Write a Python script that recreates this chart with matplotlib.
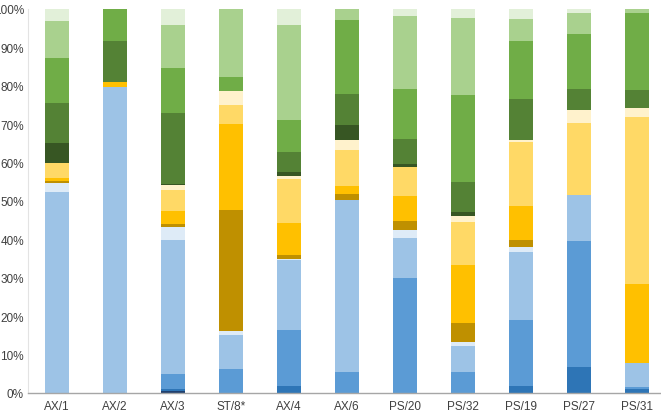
import matplotlib
matplotlib.use("Agg")
import matplotlib.pyplot as plt
import numpy as np
from matplotlib.ticker import PercentFormatter

categories = ["AX/1", "AX/2", "AX/3", "ST/8*", "AX/4", "AX/6", "PS/20", "PS/32", "PS/19", "PS/27", "PS/31"]

navy      = [0, 0, 0.5, 0, 0, 0, 0, 0, 0, 0, 0]
dk_blue   = [0, 0, 0.6, 0, 1.9, 0, 0, 0, 1.9, 6.7, 1.0]
med_blue  = [0, 0, 3.9, 6.25, 14.5, 5.4, 29.9, 5.4, 17.1, 32.8, 0.6]
lt_blue   = [52.3, 79.6, 35.0, 8.9, 18.2, 44.9, 10.4, 6.8, 17.6, 12.1, 6.2]
vlt_blue  = [2.3, 0, 3.2, 1.1, 0.3, 0, 2.2, 1.0, 1.3, 0, 0]
dk_gold   = [0.5, 0, 0.9, 31.25, 1.0, 1.7, 2.2, 4.9, 1.9, 0, 0]
gold      = [0.7, 1.3, 3.3, 22.4, 8.4, 2.0, 6.5, 15.2, 8.9, 0, 20.6]
lt_yellow = [3.8, 0, 5.4, 4.9, 11.5, 9.4, 7.7, 11.1, 16.5, 18.75, 43.6]
vlt_yellow= [0, 0, 1.3, 3.7, 0.9, 2.5, 0, 1.6, 0.6, 3.2, 2.3]
dk_green  = [5.2, 0, 0.4, 0, 1.0, 3.9, 0.7, 1.0, 0, 0, 0]
green     = [10.6, 10.7, 18.4, 0, 5.2, 8.1, 6.5, 7.8, 10.7, 5.6, 4.7]
med_green = [11.5, 8.4, 11.8, 3.8, 8.4, 19.4, 13.0, 22.8, 15.2, 14.3, 20.05]
lt_green  = [9.8, 0, 11.3, 17.6, 24.6, 2.8, 19.1, 19.9, 5.6, 5.4, 1.0]
vlt_green = [3.0, 0, 4.1, 0, 4.3, 0, 1.7, 2.4, 2.6, 1.1, 0]

series = [navy, dk_blue, med_blue, lt_blue, vlt_blue, dk_gold, gold, lt_yellow,
          vlt_yellow, dk_green, green, med_green, lt_green, vlt_green]
colors = ["#1F3F6E", "#2E75B6", "#5B9BD5", "#9DC3E6", "#DEEBF7", "#BF9000", "#FFC000",
          "#FFD966", "#FFF2CC", "#375623", "#548235", "#70AD47", "#A9D18E", "#E2F0D9"]

data = np.array(series, dtype=float)
data = data / data.sum(axis=0) * 100.0

fig = plt.figure(figsize=(6.61, 4.14), dpi=100)
W, H = 661, 414
left_px, right_px, bot_px, top_px = 28, 666, 394, 10
ax = fig.add_axes([left_px / W, (H - bot_px) / H, (right_px - left_px) / W, (bot_px - top_px) / H])

x = np.arange(len(categories))
bottom = np.zeros(len(categories))
for vals, c in zip(data, colors):
    ax.bar(x, vals, bottom=bottom, width=0.40, color=c, edgecolor="none", zorder=2)
    bottom += vals

ax.set_xlim(-0.5, len(categories) - 0.5)
ax.set_ylim(0, 100)
ax.set_yticks(np.arange(0, 101, 10))
ax.yaxis.set_major_formatter(PercentFormatter(decimals=0))
ax.set_xticks(x)
ax.set_xticklabels(categories)

for s in ["top", "right"]:
    ax.spines[s].set_visible(False)
ax.spines["left"].set_color("#E3E3E3")
ax.spines["left"].set_linewidth(0.8)
ax.spines["bottom"].set_color("#A6A6A6")
ax.spines["bottom"].set_linewidth(1.0)

ax.tick_params(axis="both", length=0, labelsize=8.5, labelcolor="#404040")
ax.tick_params(axis="y", pad=3)
ax.tick_params(axis="x", pad=5)
for lab in ax.get_xticklabels() + ax.get_yticklabels():
    lab.set_fontfamily("Liberation Sans")

fig.savefig("out.png", dpi=100)
